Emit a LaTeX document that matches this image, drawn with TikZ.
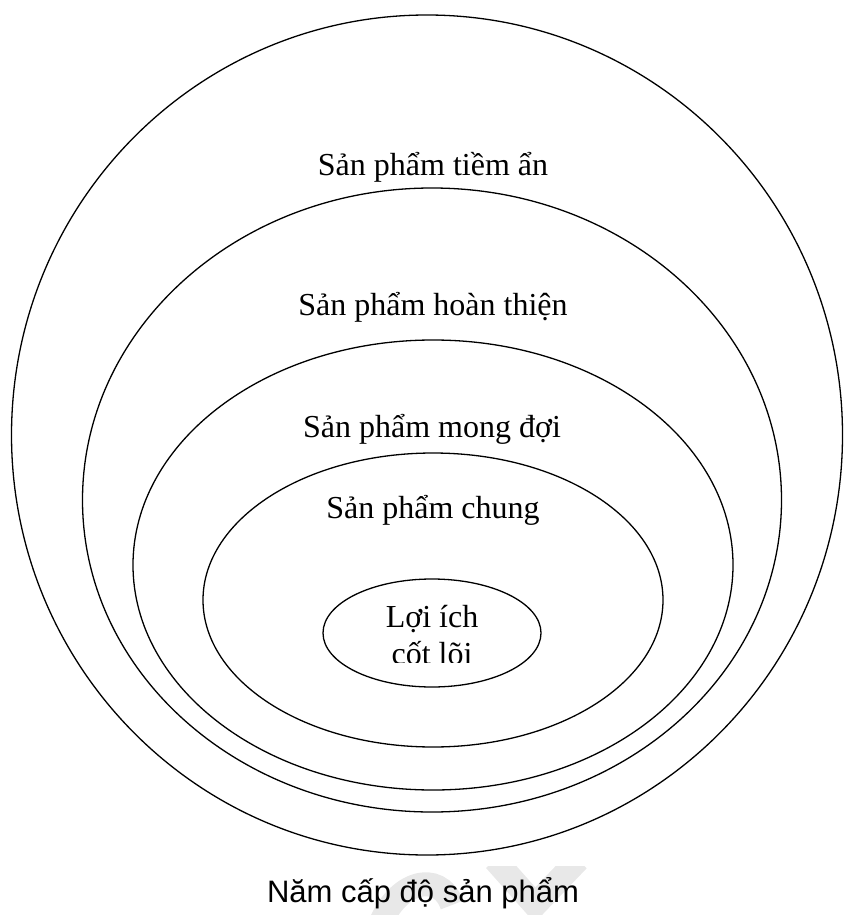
\documentclass[tikz,border=0pt]{standalone}
\usepackage{fontspec}
\setmainfont{Liberation Serif}
\newfontfamily\captionfont{Liberation Sans}
\usetikzlibrary{shapes.geometric}
\tikzset{
  layer/.style={draw, ellipse, line width=1.3pt, inner sep=0pt},
  layerlabel/.style={font=\fontsize{32}{38}\selectfont, anchor=base, inner sep=0pt},
  captionlabel/.style={font=\captionfont\fontsize{31}{37}\selectfont, anchor=base, inner sep=0pt},
  watermark/.style={draw=gray!18, line width=24pt},
}
\begin{document}
\begin{tikzpicture}[x=1pt, y=-1pt]
    \useasboundingbox (0,0) rectangle (845,915);
    % faint mark behind the caption
    \begin{scope}
      \clip (0,866) rectangle (845,915);
      \draw[watermark] (378,930) .. controls (395,880) and (440,870) .. (452,905);
      \draw[watermark] (495,860) -- (535,905) -- (578,860);
    \end{scope}
    \node[layer, minimum width=831pt, minimum height=840pt] (tiemAn) at (427,435) {};
    \node[layer, minimum width=699pt, minimum height=624pt] (hoanThien) at (432,500) {};
    \node[layer, minimum width=600pt, minimum height=450pt] (mongDoi) at (433,565) {};
    \node[layer, minimum width=460pt, minimum height=294pt] (chung) at (433,600) {};
    \node[layer, minimum width=218pt, minimum height=108pt] (loiIch) at (432,633) {};
    \node[layerlabel] (lblTiemAn) at (433,175) {Sản phẩm tiềm ẩn};
    \node[layerlabel] (lblHoanThien) at (433,315) {Sản phẩm hoàn thiện};
    \node[layerlabel] (lblMongDoi) at (432,437) {Sản phẩm mong đợi};
    \node[layerlabel] (lblChung) at (433,518) {Sản phẩm chung};
    \node[layerlabel] (lblLoiIch) at (432,627) {Lợi ích};
    \begin{scope}
      \clip (380,636) rectangle (490,662);
      \node[layerlabel] (lblCotLoi) at (432,664) {cốt lõi};
    \end{scope}
    \node[captionlabel] (caption) at (423,902) {Năm cấp độ sản phẩm};
  \end{tikzpicture}
\end{document}
